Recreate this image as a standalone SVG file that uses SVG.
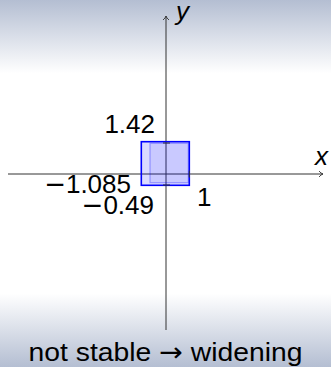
<svg xmlns="http://www.w3.org/2000/svg" width="331" height="367" viewBox="0 0 331 367">
  <defs>
    <linearGradient id="bg" x1="0" y1="0" x2="0" y2="1">
      <stop offset="0" stop-color="#b4bed2"/>
      <stop offset="0.2" stop-color="#ffffff"/>
      <stop offset="0.8" stop-color="#ffffff"/>
      <stop offset="1" stop-color="#b4bed2"/>
    </linearGradient>
    <marker id="arr" markerWidth="10" markerHeight="10" refX="6" refY="5" orient="auto" markerUnits="userSpaceOnUse">
      <path d="M2,2 Q4,4.5 6,5 Q4,5.5 2,8" fill="none" stroke="#333" stroke-width="0.9"/>
    </marker>
    <style>
      .axis { stroke: #333; stroke-width: 1; fill: none; }
      .tick { stroke: #333; stroke-width: 1; }
      .lbl { font-family: "Liberation Sans", Arial, sans-serif; font-size: 26px; fill: #000; }
      .sym { font-family: "DejaVu Sans", sans-serif; }
      .var { font-family: "Liberation Sans", Arial, sans-serif; font-size: 26px; font-style: italic; fill: #000; }
      .box { fill: #0000ff; fill-opacity: 0.14; stroke: #0000ff; stroke-width: 1.6; }
      .box2 { fill: #0000ff; fill-opacity: 0.08; stroke: #0000ff; stroke-opacity: 0.3; stroke-width: 1.2; }
    </style>
  </defs>
  <rect width="331" height="367" fill="url(#bg)"/>
  <g id="connectors">
    <line class="axis" x1="8" y1="174" x2="323" y2="174" marker-end="url(#arr)"/>
    <line class="axis" x1="166" y1="330" x2="166" y2="16" marker-end="url(#arr)"/>
  </g>
  <g id="box-prev">
    <rect class="box2" x="150" y="143.3" width="38.3" height="39.4"/>
  </g>
  <g id="box">
    <rect class="box" x="141.3" y="141.7" width="48" height="43.6"/>
  </g>
  <g id="ticks">
    <line class="tick" x1="163" y1="143" x2="170" y2="143"/>
    <line class="tick" x1="163" y1="185" x2="170" y2="185"/>
    <line class="tick" x1="189.3" y1="170.5" x2="189.3" y2="177.5"/>
  </g>
  <g id="labels">
    <text class="var" x="176" y="20">y</text>
    <text class="var" x="315" y="165">x</text>
    <text class="lbl" x="155" y="133" text-anchor="end">1.42</text>
    <text class="lbl" x="131" y="193" text-anchor="end"><tspan class="sym">−</tspan>1.085</text>
    <text class="lbl" x="154" y="214" text-anchor="end"><tspan class="sym">−</tspan>0.49</text>
    <text class="lbl" x="197" y="206">1</text>
  </g>
  <g id="caption">
    <text class="lbl" x="165.5" y="361" text-anchor="middle" textLength="274" lengthAdjust="spacingAndGlyphs">not stable <tspan class="sym">→</tspan> widening</text>
  </g>
</svg>
